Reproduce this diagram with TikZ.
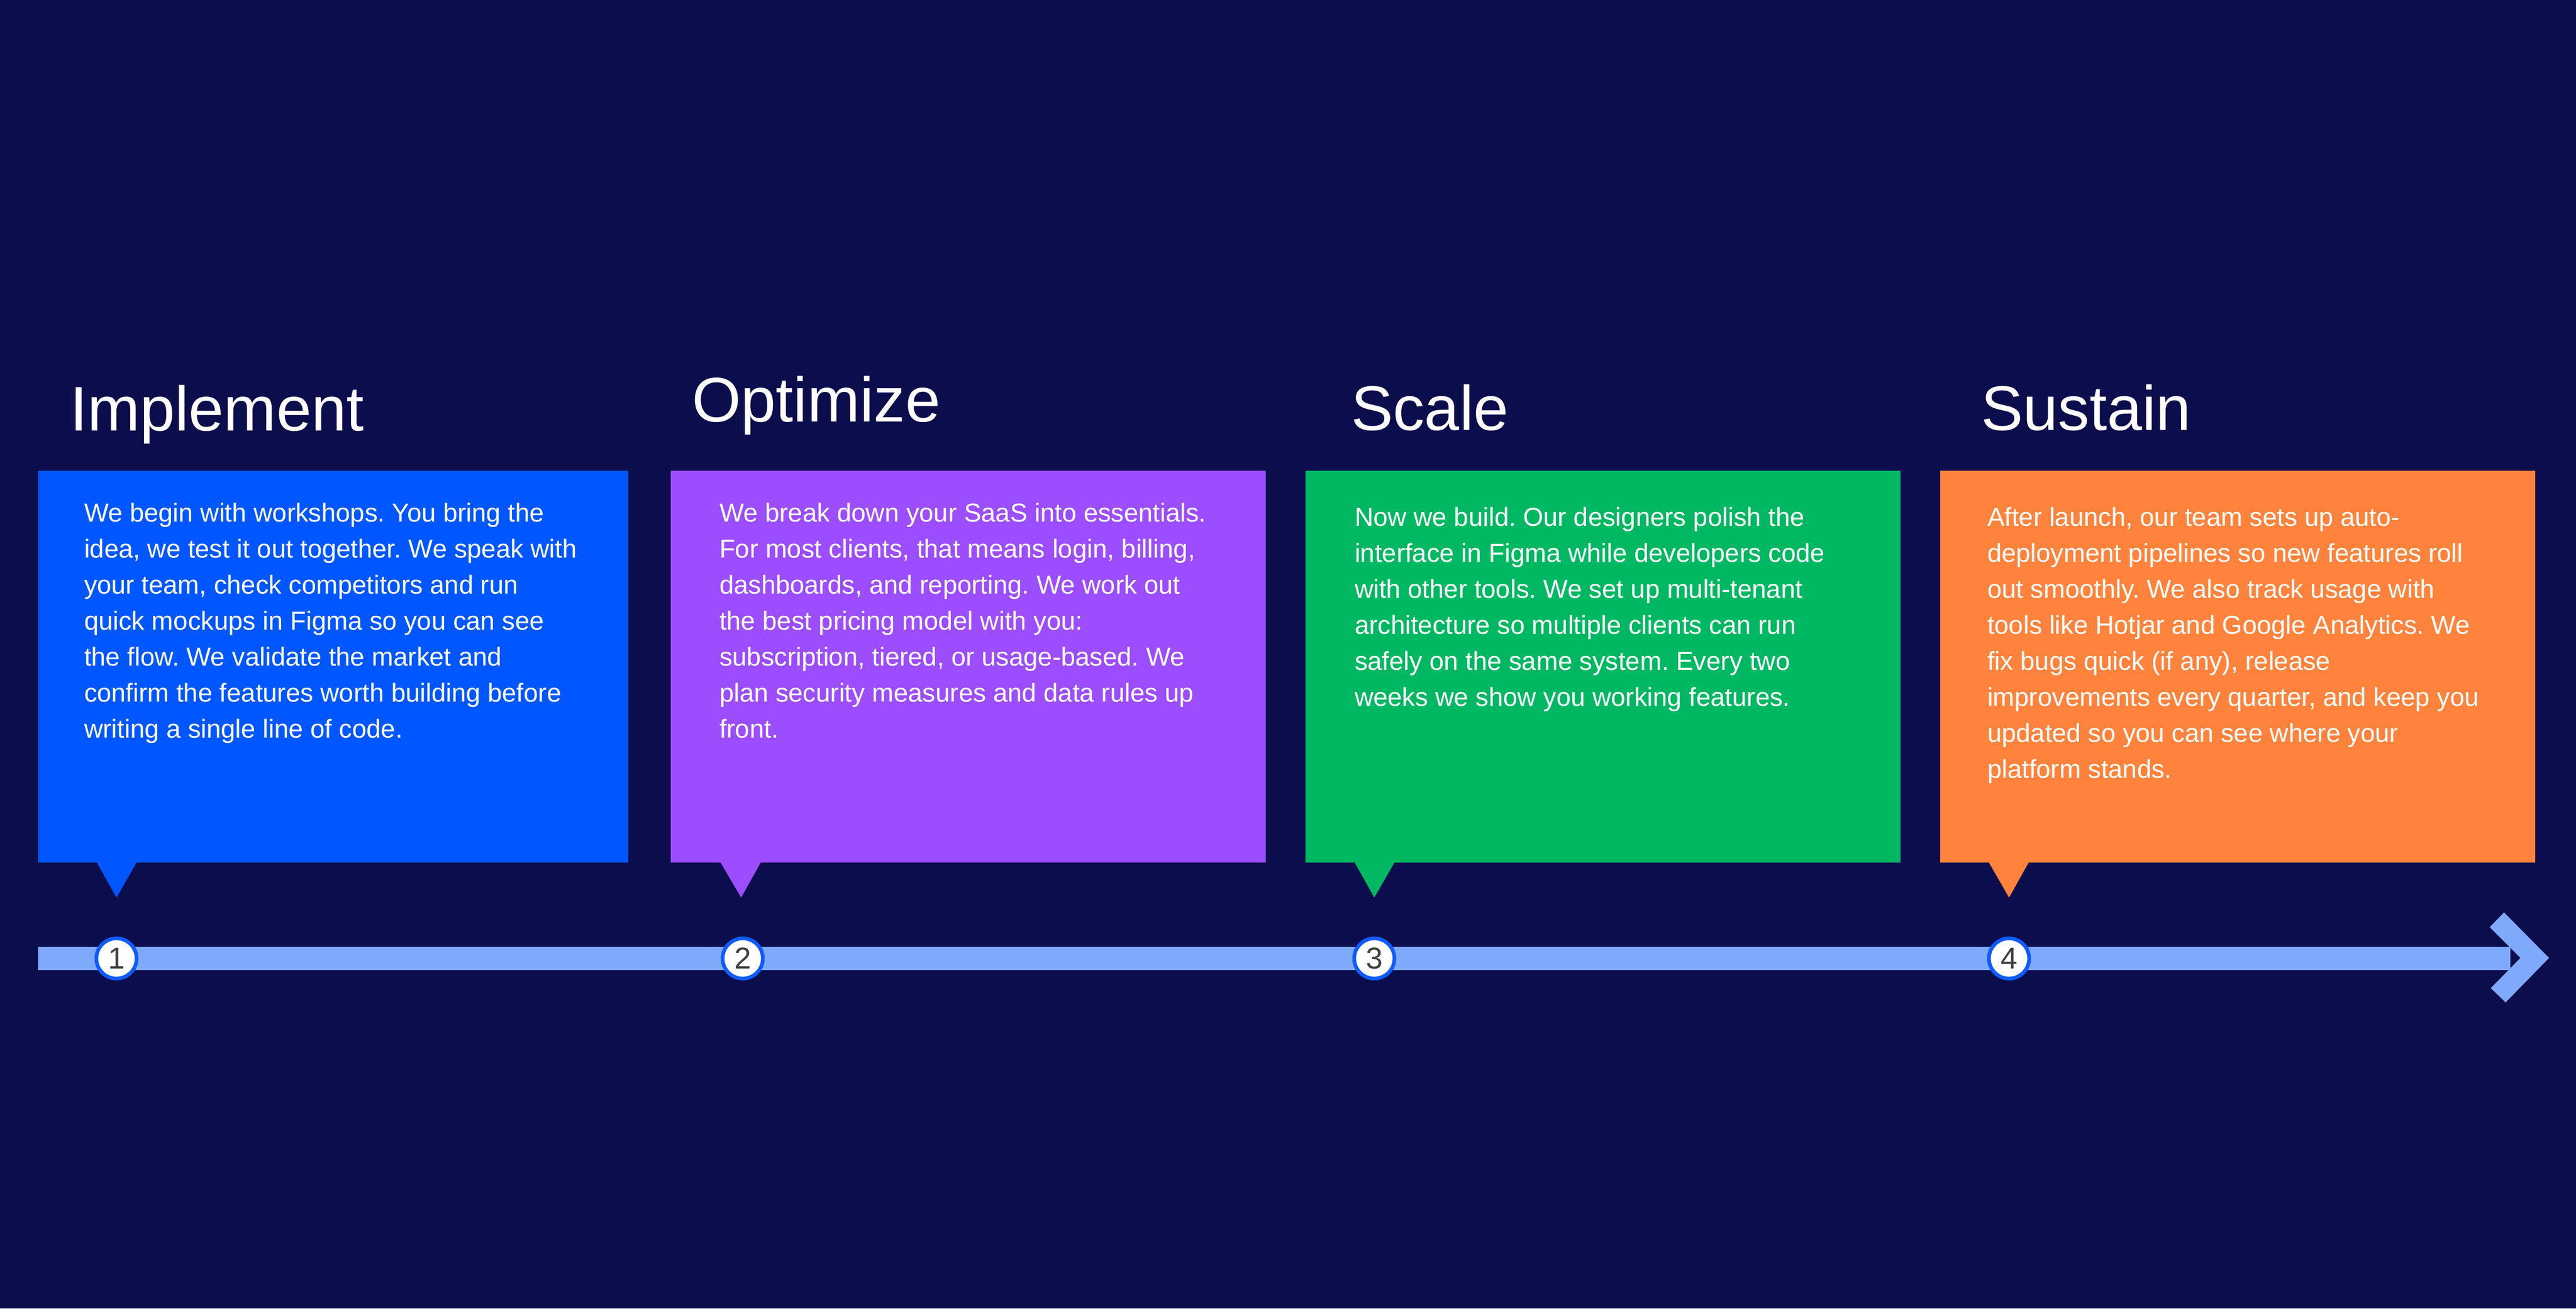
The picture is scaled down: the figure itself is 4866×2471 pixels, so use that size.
\documentclass[tikz,border=0pt]{standalone}
\usepackage{fontspec}
\setmainfont{Liberation Sans}
\frenchspacing
\definecolor{bg}{HTML}{0C0D4C}
\definecolor{cblue}{HTML}{0057FF}
\definecolor{cpurple}{HTML}{9B4DFF}
\definecolor{cgreen}{HTML}{00B862}
\definecolor{corange}{HTML}{FF833C}
\definecolor{barblue}{HTML}{7FA9FA}
\definecolor{ringblue}{HTML}{0F5BFF}
\definecolor{digit}{HTML}{404040}
\tikzset{
  card/.style={rectangle, inner sep=0pt, outer sep=0pt, anchor=north west, minimum height=148pt},
  title/.style={anchor=base west, inner sep=0pt, text=white, font=\fontsize{23.8pt}{28pt}\selectfont},
  body/.style={anchor=base west, inner sep=0pt, text=white},
  marker/.style={circle, fill=white, draw=ringblue, line width=1.4pt, minimum size=15.2pt, inner sep=0pt, text=digit, font=\fontsize{11.4pt}{11.4pt}\selectfont},
}
\newcommand{\bodytext}[1]{\parbox[t]{230pt}{\raggedright\frenchspacing\fontsize{9.8pt}{13.6pt}\selectfont #1}}
\begin{document}
\begin{tikzpicture}[x=0.2pt,y=-0.2pt]
\fill[bg] (0,0) rectangle (4866,2471);
\useasboundingbox (0,0) rectangle (4866,2471);

% timeline bar and arrowhead
\fill[barblue] (72,1788) rectangle (4742,1832);
\fill[barblue] (4730,1723) -- (4815,1809) -- (4733,1893) -- (4705,1866) -- (4761,1809) -- (4703,1751) -- cycle;

% cards
\node[card, fill=cblue, minimum width=223pt] (b1) at (72,889) {};
\fill[cblue] (182,1627) -- (259,1627) -- (220,1695) -- cycle;
\node[card, fill=cpurple, minimum width=224.8pt] (b2) at (1267,889) {};
\fill[cpurple] (1360,1627) -- (1438,1627) -- (1400,1695) -- cycle;
\node[card, fill=cgreen, minimum width=224.8pt] (b3) at (2466,889) {};
\fill[cgreen] (2558,1627) -- (2635,1627) -- (2596,1695) -- cycle;
\node[card, fill=corange, minimum width=224.8pt] (b4) at (3665,889) {};
\fill[corange] (3756,1627) -- (3833,1627) -- (3795,1695) -- cycle;

% titles
\node[title] (t1) at (131,813) {Implement};
\node[title] (t2) at (1306,796) {Optimize};
\node[title] (t3) at (2551,812) {Scale};
\node[title] (t4) at (3741,812) {Sustain};

% body texts
\node[body] (x1) at (158,985) {\bodytext{We begin with workshops. You bring the\\
idea, we test it out together. We speak with\\
your team, check competitors and run\\
quick mockups in Figma so you can see\\
the flow. We validate the market and\\
confirm the features worth building before\\
writing a single line of code.}};
\node[body] (x2) at (1358,985) {\bodytext{We break down your SaaS into essentials.\\
For most clients, that means login, billing,\\
dashboards, and reporting. We work out\\
the best pricing model with you:\\
subscription, tiered, or usage-based. We\\
plan security measures and data rules up\\
front.}};
\node[body] (x3) at (2558,993) {\bodytext{Now we build. Our designers polish the\\
interface in Figma while developers code\\
with other tools. We set up multi-tenant\\
architecture so multiple clients can run\\
safely on the same system. Every two\\
weeks we show you working features.}};
\node[body] (x4) at (3753,993) {\bodytext{After launch, our team sets up auto-\\
deployment pipelines so new features roll\\
out smoothly. We also track usage with\\
tools like Hotjar and Google Analytics. We\\
fix bugs quick (if any), release\\
improvements every quarter, and keep you\\
updated so you can see where your\\
platform stands.}};

% markers
\node[marker] (c1) at (220,1810) {1};
\node[marker] (c2) at (1403,1810) {2};
\node[marker] (c3) at (2596,1810) {3};
\node[marker] (c4) at (3795,1810) {4};
\end{tikzpicture}
\end{document}
